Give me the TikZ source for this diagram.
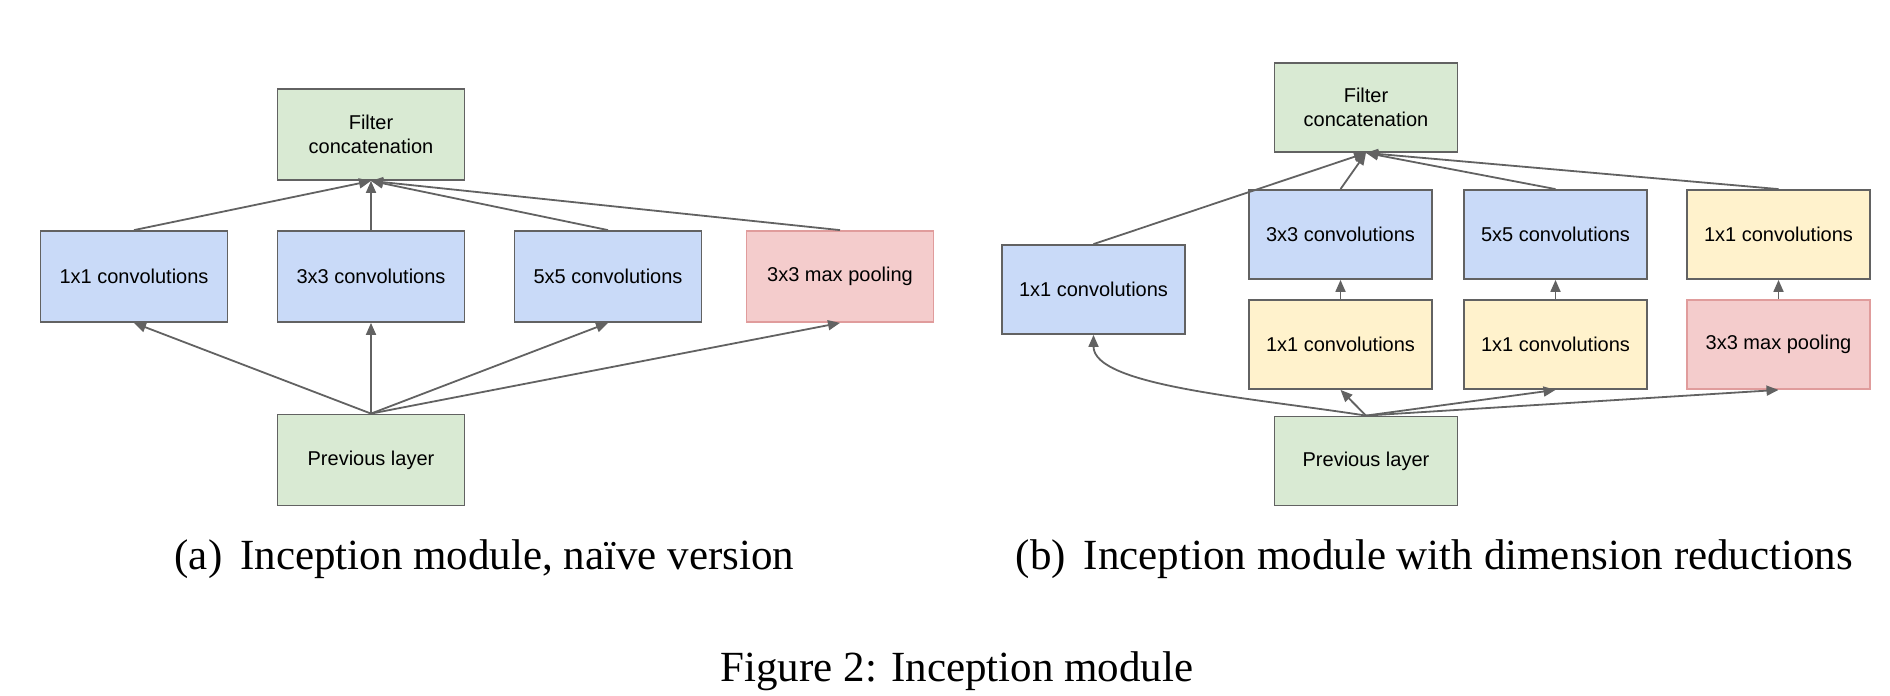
\documentclass[tikz,border=0pt]{standalone}
\usepackage{fontspec}
\setmainfont{Liberation Serif}
\newfontfamily\boxfont{Liberation Sans}
\usetikzlibrary{arrows.meta,positioning}
\definecolor{boxgreen}{HTML}{D9EAD3}
\definecolor{boxblue}{HTML}{C9DAF8}
\definecolor{boxyellow}{HTML}{FFF2CC}
\definecolor{boxpink}{HTML}{F4CCCC}
\definecolor{pinkline}{HTML}{E09C9C}
\definecolor{lineGray}{HTML}{626262}

\begin{document}
\begin{tikzpicture}[
    x=1pt, y=-1pt,
    layer/.style={
      draw=lineGray, line width=1.8pt, fill=#1,
      font=\boxfont\fontsize{20}{24}\selectfont, text=black,
      align=center, inner sep=0pt,
      minimum width=187pt, minimum height=91pt,
    },
    layerb/.style={layer=#1, minimum width=183pt, minimum height=89pt},
    pool/.style={draw=pinkline, fill=boxpink},
    arr/.style={-{Triangle[length=12pt,width=10pt]}, line width=1.8pt, draw=lineGray},
    captext/.style={font=\fontsize{43}{50}\selectfont, anchor=base},
  ]
  \useasboundingbox (0,0) rectangle (1890,696);

  % =================== (a) NAIVE VERSION ===================
  \node[layer=boxgreen] (fcA) at (371, 134.5) {Filter\\concatenation};
  \node[layer=boxblue] (c1A) at (134, 276.5) {1x1 convolutions};
  \node[layer=boxblue] (c3A) at (371, 276.5) {3x3 convolutions};
  \node[layer=boxblue] (c5A) at (608, 276.5) {5x5 convolutions};
  \node[layer=boxpink, pool] (mpA) at (840, 276.5) {3x3 max pooling};
  \node[layer=boxgreen] (prevA) at (371, 460) {Previous layer};

  % Arrows into the concatenation
  \foreach \n in {c1A, c3A, c5A, mpA}
    \draw[arr] (\n.north) -- (fcA.south);
  % Arrows out of the previous layer
  \foreach \n in {c1A, c3A, c5A, mpA}
    \draw[arr] (prevA.north) -- (\n.south);

  % =================== (b) DIMENSION REDUCTIONS ===================
  \node[layerb=boxgreen] (fcB) at (1366, 107.5) {Filter\\concatenation};
  \node[layerb=boxblue] (c1B) at (1093.5, 289.5) {1x1 convolutions};
  \node[layerb=boxblue] (c3B) at (1340.5, 234.5) {3x3 convolutions};
  \node[layerb=boxblue] (c5B) at (1555.5, 234.5) {5x5 convolutions};
  \node[layerb=boxyellow] (pjB) at (1778.5, 234.5) {1x1 convolutions};
  \node[layerb=boxyellow] (r3B) at (1340.5, 344.5) {1x1 convolutions};
  \node[layerb=boxyellow] (r5B) at (1555.5, 344.5) {1x1 convolutions};
  \node[layerb=boxpink, pool] (mpB) at (1778.5, 344.5) {3x3 max pooling};
  \node[layerb=boxgreen] (prevB) at (1366, 461) {Previous layer};

  % Arrows into the concatenation
  \foreach \n in {c1B, c3B, c5B, pjB}
    \draw[arr] (\n.north) -- (fcB.south);
  % Reductions feed the upper row
  \draw[arr] (r3B.north) -- (c3B.south);
  \draw[arr] (r5B.north) -- (c5B.south);
  \draw[arr] (mpB.north) -- (pjB.south);
  % Arrows out of the previous layer
  \draw[arr] (prevB.north) .. controls +(-116,-18) and +(0,51) .. (c1B.south);
  \foreach \n in {r3B, r5B, mpB}
    \draw[arr] (prevB.north) -- (\n.south);

  % =================== CAPTIONS ===================
  \node[captext] (capA) at (484.5, 569) {(a)\, Inception module, na\"ive version};
  \node[captext] (capB) at (1434.5, 569) {(b)\, Inception module with dimension reductions};
  \node[captext] (capFig) at (957, 681) {Figure 2: Inception module};

\end{tikzpicture}
\end{document}
